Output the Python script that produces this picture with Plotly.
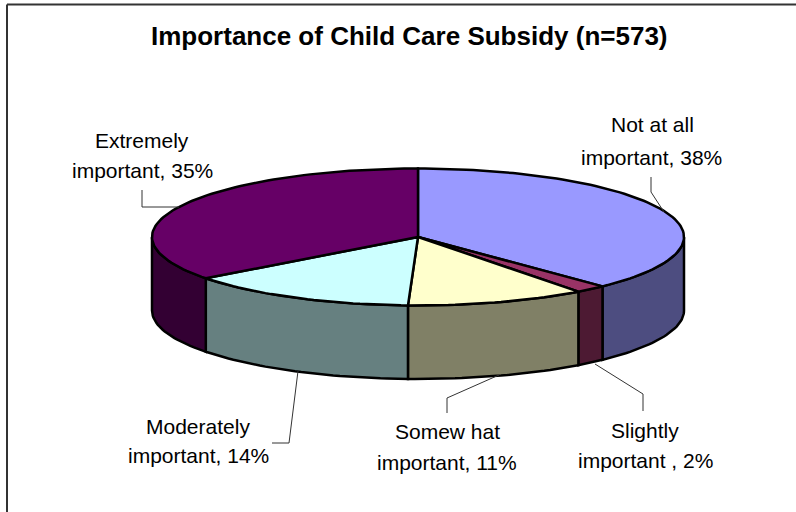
import math
import plotly.graph_objects as go

categories = ["Not at all important", "Slightly important", "Somewhat important",
              "Moderately important", "Extremely important"]
values = [37.8, 1.9, 10.9, 14.1, 35.3]
top_colors = ["#9999FF", "#993366", "#FFFFCC", "#CCFFFF", "#660066"]
side_colors = ["#4D4D80", "#4D1A33", "#808066", "#668080", "#330033"]

title_text = "Importance of Child Care Subsidy (n=573)"
label_lines = [
    ("Not at all", 652, 124), ("important, 38%", 651, 157),
    ("Extremely", 142, 140), ("important, 35%", 142, 170),
    ("Moderately", 198, 426), ("important, 14%", 198, 455),
    ("Somew hat", 447, 431), ("important, 11%", 447, 462),
    ("Slightly", 645, 430), ("important , 2%", 645, 460),
]
leaders = [
    [(651, 177), (651, 192), (664, 212)],
    [(179, 207), (142, 207), (142, 190)],
    [(298, 371), (289, 443), (272, 443)],
    [(499, 375), (447, 398), (447, 413)],
    [(595, 364), (643, 394), (643, 411)],
]

CX, CY, RX, RY, DEPTH = 418, 237, 266, 68.5, 73.5


def pt(deg, drop=0):
    a = math.radians(deg)
    return CX + RX * math.sin(a), CY - RY * math.cos(a) + drop


def arc(a0, a1, drop=0):
    n = max(2, int(abs(a1 - a0) / 1.5) + 2)
    return [pt(a0 + (a1 - a0) * i / (n - 1), drop) for i in range(n)]


fig = go.Figure()


def poly(points, fill):
    fig.add_trace(go.Scatter(
        x=[p[0] for p in points], y=[p[1] for p in points], mode="lines",
        fill="toself", fillcolor=fill,
        line=dict(color="#000000", width=2.5), hoverinfo="skip", showlegend=False))


total = sum(values)
start = 0
spans = []
for v in values:
    spans.append((start, start + v / total * 360))
    start += v / total * 360

for (a0, a1), c in zip(spans, side_colors):
    lo, hi = max(a0, 90), min(a1, 270)
    if lo < hi:
        poly(arc(lo, hi) + arc(hi, lo, DEPTH) + [pt(lo)], c)

for (a0, a1), c in zip(spans, top_colors):
    poly([(CX, CY)] + arc(a0, a1) + [(CX, CY)], c)

for seg in leaders:
    fig.add_trace(go.Scatter(
        x=[p[0] for p in seg], y=[p[1] for p in seg], mode="lines",
        line=dict(color="#333333", width=1), hoverinfo="skip", showlegend=False))

anns = [dict(x=409, y=36, xref="x", yref="y", text=f"<b>{title_text}</b>", showarrow=False,
             font=dict(family="Liberation Sans", size=26, color="#000000"))]
for t, x, y in label_lines:
    anns.append(dict(x=x, y=y, xref="x", yref="y", text=t, showarrow=False,
                     font=dict(family="Liberation Sans", size=21, color="#000000")))

shapes = [
    dict(type="line", xref="x", yref="y", x0=7, x1=7, y0=4.5, y1=512,
         line=dict(color="#333333", width=2)),
    dict(type="line", xref="x", yref="y", x0=7, x1=796, y0=4.5, y1=4.5,
         line=dict(color="#333333", width=2)),
]

fig.update_layout(
    width=796, height=512, margin=dict(l=0, r=0, t=0, b=0),
    paper_bgcolor="#FFFFFF", plot_bgcolor="#FFFFFF", showlegend=False,
    xaxis=dict(range=[0, 796], visible=False, fixedrange=True),
    yaxis=dict(range=[512, 0], visible=False, fixedrange=True),
    annotations=anns, shapes=shapes,
)
fig.write_html("out.html", config=dict(displayModeBar=False),
               post_script="document.body.style.margin='0';document.documentElement.style.overflow='hidden';")
